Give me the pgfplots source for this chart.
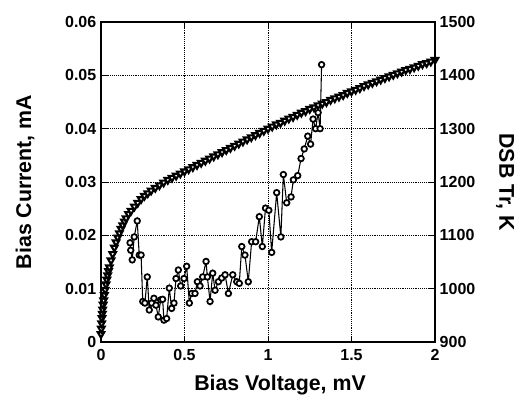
\documentclass[border=0pt]{standalone}
\usepackage{fontspec}
\setmainfont{Liberation Sans}
\usepackage{pgfplots}
\pgfplotsset{compat=1.18}
\begin{document}
\begin{tikzpicture}
\useasboundingbox (-75.75pt,-45pt) rectangle (310.5pt,256.5pt);
\pgfplotsset{
  every axis/.append style={
    scale only axis, width=250.5pt, height=240pt,
    at={(0,0)}, anchor=south west,
    xmin=0, xmax=2,
    scaled ticks=false,
    /pgf/number format/assume math mode=true,
    /pgf/number format/1000 sep={},
    ticklabel style={font=\fontsize{12}{12}\selectfont\bfseries},
    label style={font=\fontsize{16}{16}\selectfont\bfseries},
    axis line style={line width=0.8pt},
    tick style={black, line width=0.6pt},
  }
}
% I-V curve
\begin{axis}[
  ymin=0, ymax=0.06,
  xtick={0,0.5,1,1.5,2}, xticklabels={0,0.5,1,1.5,2},
  ytick={0,0.01,0.02,0.03,0.04,0.05,0.06},
  yticklabels={0,0.01,0.02,0.03,0.04,0.05,0.06},
  ytick pos=left,
  xticklabel style={yshift=-2pt},
  grid=major, grid style={densely dotted, black, line width=0.5pt},
  xlabel={Bias Voltage, mV},
  xlabel style={at={(axis description cs:0.536,-0.134)}, anchor=center},
  ylabel={Bias Current, mA},
  ylabel style={at={(axis description cs:-0.2275,0.5)}, anchor=center, rotate=0},
]
\addplot[black, line width=0.8pt, mark=triangle*,
  mark options={rotate=180, fill=white, line width=1.6pt}, mark size=2.8pt]
coordinates {
(0.000,0.0015) (0.002,0.0025) (0.004,0.0035) (0.006,0.0045) (0.008,0.0053)
(0.010,0.0061) (0.013,0.0070) (0.016,0.0078) (0.020,0.0088) (0.025,0.0098)
(0.030,0.0108) (0.035,0.0117) (0.040,0.0125) (0.045,0.0133) (0.050,0.0140)
(0.060,0.0153) (0.070,0.0165) (0.080,0.0177) (0.090,0.0187) (0.100,0.0196)
(0.110,0.0204) (0.120,0.0212) (0.130,0.0219) (0.140,0.0226) (0.150,0.0232)
(0.165,0.0240) (0.180,0.0246) (0.200,0.0254) (0.220,0.0261) (0.240,0.0268)
(0.260,0.0274) (0.280,0.0279)
(0.300,0.0284) (0.325,0.0289) (0.350,0.0294) (0.375,0.0299) (0.400,0.0304)
(0.425,0.0308) (0.450,0.0312) (0.475,0.0316) (0.500,0.0320) (0.525,0.0324)
(0.550,0.0328) (0.575,0.0332) (0.600,0.0336) (0.625,0.0340) (0.650,0.0344)
(0.675,0.0348) (0.700,0.0352) (0.725,0.0356) (0.750,0.0360) (0.775,0.0364)
(0.800,0.0368) (0.825,0.0372) (0.850,0.0376) (0.875,0.0380) (0.900,0.0384)
(0.925,0.0388) (0.950,0.0392) (0.975,0.0396) (1.000,0.0400) (1.025,0.0404)
(1.050,0.0408) (1.075,0.0411) (1.100,0.0415) (1.125,0.0419) (1.150,0.0422)
(1.175,0.0426) (1.200,0.0430) (1.225,0.0433) (1.250,0.0437) (1.275,0.0440)
(1.300,0.0444) (1.325,0.0447) (1.350,0.0450) (1.375,0.0454) (1.400,0.0457)
(1.425,0.0460) (1.450,0.0463) (1.475,0.0467) (1.500,0.0470) (1.525,0.0473)
(1.550,0.0476) (1.575,0.0480) (1.600,0.0483) (1.625,0.0486) (1.650,0.0489)
(1.675,0.0492) (1.700,0.0495) (1.725,0.0498) (1.750,0.0501) (1.775,0.0504)
(1.800,0.0507) (1.825,0.0510) (1.850,0.0512) (1.875,0.0515) (1.900,0.0518)
(1.925,0.0521) (1.950,0.0523) (1.975,0.0526) (2.000,0.0529)
};
\end{axis}
% noise temperature
\begin{axis}[
  ymin=900, ymax=1500,
  axis x line=none, axis y line*=right,
  ytick={900,1000,1100,1200,1300,1400,1500},
  ylabel={DSB Tr, K},
  ylabel style={at={(axis description cs:1.21,0.5)}, anchor=center, rotate=180},
]
\addplot[black, line width=0.8pt, mark=*,
  mark options={fill=white, line width=1.3pt}, mark size=2.1pt]
coordinates {
(0.174,1086) (0.178,1072) (0.187,1054) (0.199,1097) (0.217,1127)
(0.229,1063) (0.240,1063) (0.250,976) (0.263,973) (0.277,1022)
(0.289,960) (0.304,973) (0.317,982) (0.329,969) (0.343,947)
(0.357,979) (0.369,980) (0.377,941) (0.393,944) (0.409,1001)
(0.423,963) (0.437,973) (0.449,1019) (0.463,1035) (0.477,1005)
(0.497,1019) (0.513,1042) (0.529,973) (0.543,991) (0.563,991)
(0.577,1013) (0.593,1005) (0.609,1022) (0.629,1051) (0.637,1022)
(0.653,976) (0.669,1029) (0.683,997) (0.703,1013) (0.723,1020)
(0.743,1026) (0.763,991) (0.789,1026) (0.813,1013) (0.828,1010)
(0.843,1079) (0.862,1063) (0.882,1013) (0.902,1088) (0.926,1088)
(0.948,1135) (0.966,1079) (0.985,1151) (1.005,1147) (1.022,1068)
(1.052,1180) (1.077,1097) (1.092,1214) (1.112,1161) (1.138,1172)
(1.152,1204) (1.178,1212) (1.198,1244) (1.217,1262) (1.238,1286)
(1.255,1271) (1.270,1318) (1.285,1300) (1.300,1330) (1.312,1300)
(1.321,1420)
};
\end{axis}
\end{tikzpicture}
\end{document}
